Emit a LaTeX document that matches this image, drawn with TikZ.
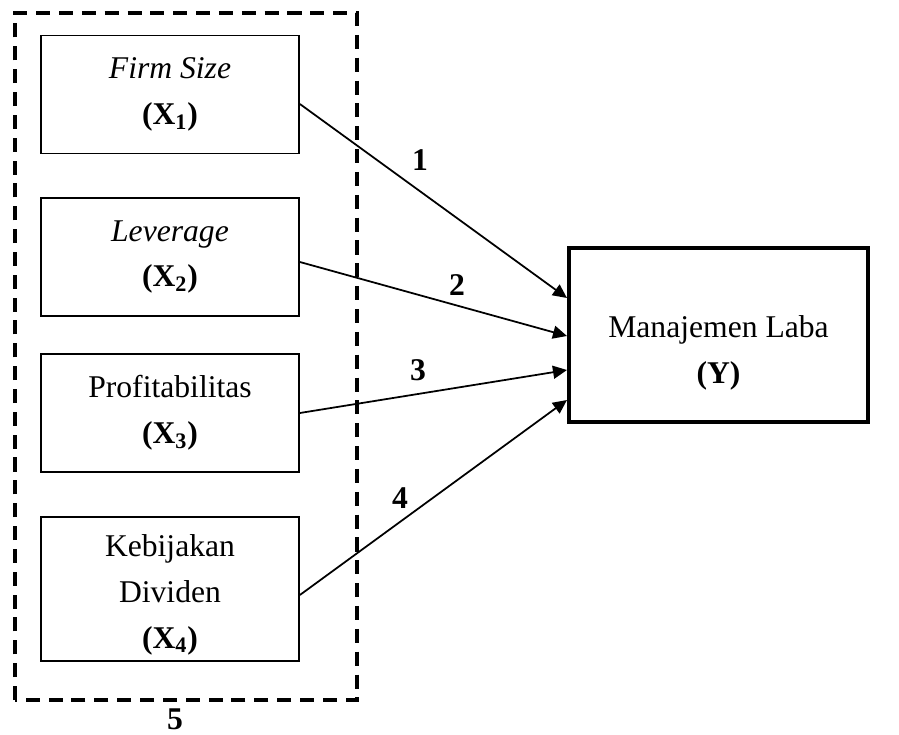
\documentclass[tikz,border=0pt]{standalone}
\usepackage{fontspec}
\setmainfont{Liberation Serif}
\usetikzlibrary{positioning,calc,arrows.meta}

\begin{document}
\begin{tikzpicture}[
  varbox/.style={draw, line width=1pt, minimum width=5.16cm, minimum height=2.36cm, align=center, inner sep=0pt},
  depbox/.style={draw, line width=2.3pt, minimum width=5.98cm, minimum height=3.48cm, inner sep=0pt},
  link/.style={line width=1pt, -{Triangle[length=0.28cm, width=0.26cm]}},
  num/.style={font=\fontsize{18}{26}\selectfont\bfseries},
  font=\fontsize{18}{26}\selectfont,
]
\useasboundingbox (0,0) rectangle (17.98,14.68);

% geometry
\def\xl{3.4}        % centre of the left column
\def\xr{14.37}      % centre of the dependent box

% ---------- independent variables ----------
\node[varbox] (x1) at (\xl,12.79) {\textit{Firm Size}\\\textbf{(X\textsubscript{1})}};
\node[varbox] (x2) at (\xl,9.54) {\textit{Leverage}\\\textbf{(X\textsubscript{2})}};
\node[varbox] (x3) at (\xl,6.42) {Profitabilitas\\\textbf{(X\textsubscript{3})}};
\node[varbox, minimum height=2.88cm] (x4) at (\xl,2.90) {};
\node[align=center] (x4text) at (\xl,2.78) {Kebijakan\\Dividen\\\textbf{(X\textsubscript{4})}};

% dashed frame round all four (simultaneous effect)
\draw[line width=2.3pt, dash pattern=on 8pt off 5pt] (0.30,0.68) rectangle (7.14,14.42);
\node[num] (n5) at (3.5,0.30) {5};

% ---------- dependent variable ----------
\node[depbox] (y) at (\xr,7.98) {};
\node[align=center] (ytext) at ($(y)+(0,-0.36)$) {Manajemen Laba\\\textbf{(Y)}};

% ---------- partial effects ----------
\draw[link] ($(x1.east)+(0,-0.19)$) -- ($(y.west)+(0,0.74)$);
\draw[link] ($(x2.east)+(0,-0.10)$) -- ($(y.west)+(0,-0.02)$);
\draw[link] (x3.east) -- ($(y.west)+(0,-0.70)$);
\draw[link] ($(x4.east)+(0,-0.12)$) -- ($(y.west)+(0,-1.30)$);

\node[num] (n1) at (8.40,11.48) {1};
\node[num] (n2) at (9.14,8.98) {2};
\node[num] (n3) at (8.36,7.28) {3};
\node[num] (n4) at (8.00,4.72) {4};

\end{tikzpicture}
\end{document}
